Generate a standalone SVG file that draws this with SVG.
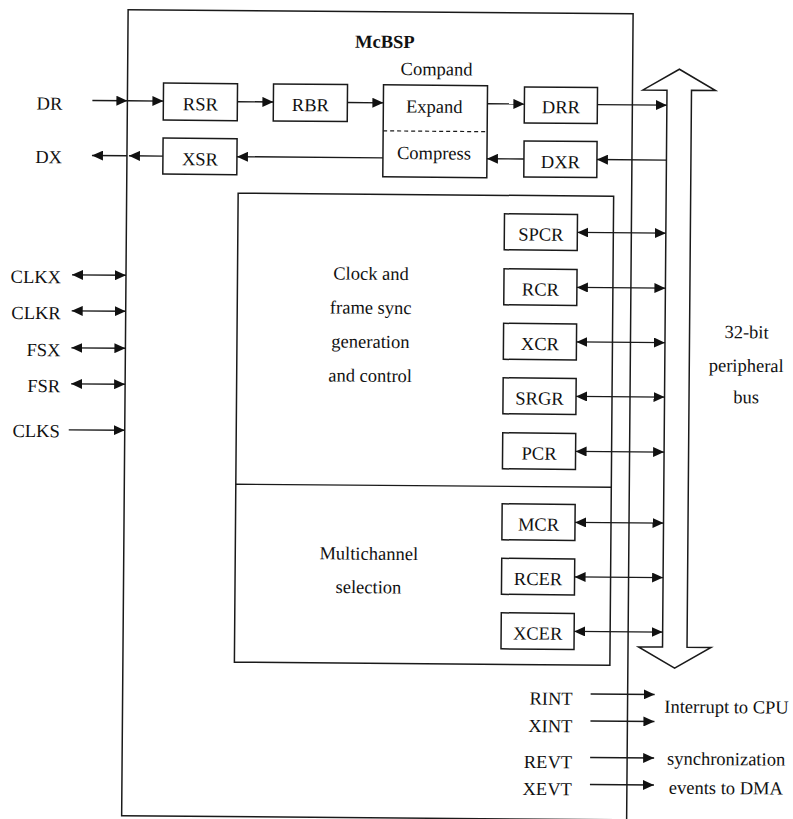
<svg xmlns="http://www.w3.org/2000/svg" width="793" height="819" viewBox="0 0 793 819">
<defs>
<marker id="ah" markerUnits="userSpaceOnUse" markerWidth="12" markerHeight="10" refX="11" refY="5" orient="auto-start-reverse">
<path d="M0,0 L11,5 L0,10 z" fill="#111"/>
</marker>
<style>
text{font-family:"Liberation Serif","Times New Roman",serif;font-size:18.5px;fill:#111}
.c{text-anchor:middle}
.e{text-anchor:end}
.b{font-weight:bold}
.box{fill:none;stroke:#1a1a1a;stroke-width:1.5}
.ln{fill:none;stroke:#1a1a1a;stroke-width:1.4}
.a1{marker-end:url(#ah)}
.a2{marker-start:url(#ah);marker-end:url(#ah)}
</style>
</defs>
<rect width="793" height="819" fill="#fff"/>
<g transform="rotate(0.46 400 400)">
<g id="mcbsp">
<rect class="box" x="125" y="12" width="505" height="806"/>
<text class="c b" x="382" y="48">McBSP</text>
</g>
<g id="rsr"><rect class="box" x="161" y="85" width="74" height="37"/><text class="c" x="198" y="112">RSR</text></g>
<g id="rbr"><rect class="box" x="271" y="85" width="74" height="37"/><text class="c" x="308" y="112">RBR</text></g>
<g id="compand">
<text class="c" x="434" y="75">Compand</text>
<rect class="box" x="381" y="85" width="104" height="92"/>
<line x1="381" y1="131" x2="485" y2="131" stroke="#1a1a1a" stroke-width="1.2" stroke-dasharray="4 3"/>
<text class="c" x="432" y="112.5">Expand</text>
<text class="c" x="432" y="159">Compress</text>
</g>
<g id="drr"><rect class="box" x="522" y="86" width="73" height="36"/><text class="c" x="558.5" y="112">DRR</text></g>
<g id="dxr"><rect class="box" x="522" y="140" width="73" height="36"/><text class="c" x="558.5" y="167">DXR</text></g>
<g id="xsr"><rect class="box" x="161" y="140" width="74" height="36"/><text class="c" x="198" y="167">XSR</text></g>
<g id="clock">
<rect class="box" x="236.5" y="194.5" width="375.5" height="469"/>
<line class="ln" x1="236.5" y1="485.5" x2="612" y2="485.5"/>
<text class="c" x="370" y="280">Clock and</text>
<text class="c" x="370" y="314">frame sync</text>
<text class="c" x="370" y="348">generation</text>
<text class="c" x="370" y="382">and control</text>
<text class="c" x="370" y="560">Multichannel</text>
<text class="c" x="370" y="593.5">selection</text>
</g>
<g id="spcr"><rect class="box" x="503" y="213" width="73" height="36"/><text class="c" x="539.5" y="239.5">SPCR</text></g>
<g id="rcr"><rect class="box" x="503" y="268" width="73" height="36"/><text class="c" x="539.5" y="294.5">RCR</text></g>
<g id="xcr"><rect class="box" x="503" y="322.5" width="73" height="36"/><text class="c" x="539.5" y="349">XCR</text></g>
<g id="srgr"><rect class="box" x="503" y="377" width="73" height="36"/><text class="c" x="539.5" y="403.5">SRGR</text></g>
<g id="pcr"><rect class="box" x="503" y="432" width="73" height="36"/><text class="c" x="539.5" y="458.5">PCR</text></g>
<g id="mcr"><rect class="box" x="503" y="503" width="73" height="36"/><text class="c" x="539.5" y="529.5">MCR</text></g>
<g id="rcer"><rect class="box" x="503" y="557.5" width="73" height="36"/><text class="c" x="539.5" y="584">RCER</text></g>
<g id="xcer"><rect class="box" x="503" y="612" width="73" height="36"/><text class="c" x="539.5" y="638.5">XCER</text></g>
<g id="bus">
<polygon class="box" fill="#fff" points="664.5,88 640.5,88 676.75,67 713,88 689,88 689,645 713,645 676.75,666 640.5,645 664.5,645"/>
<text class="c" x="746" y="335.5">32-bit</text>
<text class="c" x="746" y="369">peripheral</text>
<text class="c" x="746" y="400.5">bus</text>
</g>
<g id="pins">
<text class="e" x="60" y="112.5">DR</text>
<text class="e" x="60" y="166">DX</text>
<text class="e" x="60" y="286">CLKX</text>
<text class="e" x="60" y="322">CLKR</text>
<text class="e" x="60" y="359">FSX</text>
<text class="e" x="60" y="395">FSR</text>
<text class="e" x="60" y="440">CLKS</text>
<text class="e" x="575" y="703.5">RINT</text>
<text class="e" x="575" y="731">XINT</text>
<text class="e" x="575" y="767">REVT</text>
<text class="e" x="575" y="794">XEVT</text>
<text class="c" x="729" y="710.5">Interrupt to CPU</text>
<text class="c" x="729" y="762.5">synchronization</text>
<text class="c" x="729" y="791.5">events to DMA</text>
</g>
<g id="connectors">
<line class="ln a1" x1="90" y1="103" x2="125" y2="103"/>
<line class="ln a1" x1="125" y1="103" x2="161" y2="103"/>
<line class="ln a1" x1="235" y1="103" x2="271" y2="103"/>
<line class="ln a1" x1="345" y1="103" x2="381" y2="103"/>
<line class="ln a1" x1="485" y1="103" x2="522" y2="103"/>
<line class="ln a1" x1="595" y1="103" x2="664.5" y2="103"/>
<line class="ln a1" x1="664.5" y1="158" x2="595" y2="158"/>
<line class="ln a1" x1="522" y1="158" x2="485" y2="158"/>
<line class="ln a1" x1="381" y1="158" x2="235" y2="158"/>
<line class="ln a1" x1="161" y1="158" x2="127" y2="158"/>
<line class="ln a1" x1="125" y1="158" x2="90" y2="158"/>
<line class="ln a2" x1="71" y1="277.5" x2="125" y2="277.5"/>
<line class="ln a2" x1="71" y1="313.5" x2="125" y2="313.5"/>
<line class="ln a2" x1="71" y1="350.5" x2="125" y2="350.5"/>
<line class="ln a2" x1="71" y1="386.5" x2="125" y2="386.5"/>
<line class="ln a1" x1="69" y1="432.5" x2="125" y2="432.5"/>
<line class="ln a2" x1="576" y1="231" x2="664.5" y2="231"/>
<line class="ln a2" x1="576" y1="286" x2="664.5" y2="286"/>
<line class="ln a2" x1="576" y1="340.5" x2="664.5" y2="340.5"/>
<line class="ln a2" x1="576" y1="395" x2="664.5" y2="395"/>
<line class="ln a2" x1="576" y1="450" x2="664.5" y2="450"/>
<line class="ln a2" x1="576" y1="521" x2="664.5" y2="521"/>
<line class="ln a2" x1="576" y1="575.5" x2="664.5" y2="575.5"/>
<line class="ln a2" x1="576" y1="630" x2="664.5" y2="630"/>
<line class="ln a1" x1="593" y1="692.5" x2="657" y2="692.5"/>
<line class="ln a1" x1="593" y1="719.5" x2="657" y2="719.5"/>
<line class="ln a1" x1="593" y1="756" x2="657" y2="756"/>
<line class="ln a1" x1="593" y1="783" x2="657" y2="783"/>
</g>
</g>
</svg>
